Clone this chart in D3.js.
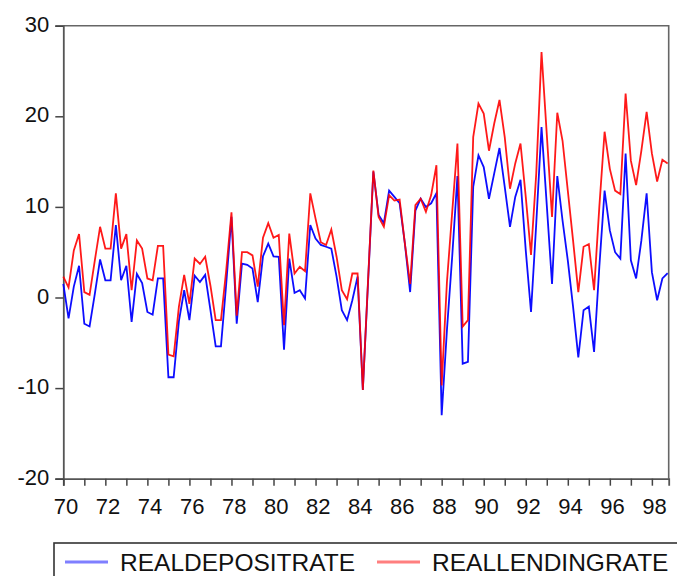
<!DOCTYPE html>
<html>
<head>
<meta charset="utf-8">
<script src="https://cdn.jsdelivr.net/npm/d3@7"></script>
<style>
  html, body { margin: 0; padding: 0; background: #fff; }
  svg { display: block; }
  text { font-family: "Liberation Sans", Arial, sans-serif; fill: #111; }
</style>
</head>
<body>
<svg id="chart" width="677" height="576"></svg>
<script>
// Quarterly observations, 1970Q1 - 1998Q4
const startYear = 1970;
const seriesNames = ["REALDEPOSITRATE", "REALLENDINGRATE"];
const seriesColors = ["#0000ff", "#ff0000"];
const legendColors = ["#7f7fff", "#ff7f7f"];

const realDepositRate = [
  1.5, -2.3, 1.2, 3.5, -2.9, -3.2, 0.4, 4.2, 1.9, 1.9,
  8.0, 1.9, 3.5, -2.7, 2.6, 1.6, -1.6, -1.9, 2.1, 2.1,
  -8.8, -8.8, -2.6, 0.8, -2.5, 2.4, 1.7, 2.5, -1.4, -5.4,
  -5.4, 1.5, 8.9, -2.9, 3.75, 3.6, 3.2, -0.5, 4.55, 5.95,
  4.55, 4.5, -5.75, 4.3, 0.5, 0.8, -0.1, 8.0, 6.5, 5.8,
  5.6, 5.4, 2.3, -1.4, -2.5, -0.3, 2.3, -10.2, 1.8, 13.9,
  9.1, 8.2, 11.8, 11.1, 10.4, 5.95, 0.6, 9.6, 10.9, 10.0,
  10.4, 11.5, -13.0, -3.6, 4.5, 13.4, -7.3, -7.1, 12.2, 15.7,
  14.4, 10.9, 13.7, 16.5, 12.2, 7.8, 11.1, 13.0, 5.2, -1.6,
  8.2, 18.8, 10.2, 1.5, 13.4, 8.5, 4.1, -1.0, -6.6, -1.4,
  -1.0, -6.0, 3.4, 11.8, 7.4, 5.0, 4.3, 15.9, 4.1, 2.1,
  6.3, 11.5, 2.8, -0.3, 2.1, 2.7
];

const realLendingRate = [
  2.3, 1.1, 5.2, 7.0, 0.6, 0.3, 4.1, 7.8, 5.4, 5.4,
  11.5, 5.4, 7.0, 0.8, 6.3, 5.4, 2.1, 1.9, 5.7, 5.7,
  -6.3, -6.5, -1.0, 2.5, -0.7, 4.3, 3.7, 4.5, 1.3, -2.5,
  -2.5, 3.0, 9.4, -2.0, 5.0, 5.0, 4.65, 1.2, 6.6, 8.2,
  6.6, 6.9, -3.05, 7.05, 2.65, 3.4, 2.9, 11.5, 8.7, 6.1,
  5.8, 7.5, 4.5, 0.8, -0.2, 2.65, 2.65, -10.2, 2.0, 14.0,
  8.9, 7.8, 11.3, 10.7, 10.8, 5.95, 1.5, 10.2, 10.9, 9.45,
  11.3, 14.6, -9.7, 1.7, 9.4, 17.0, -3.2, -2.5, 17.7, 21.4,
  20.3, 16.2, 19.2, 21.8, 17.7, 12.0, 14.8, 17.0, 11.1, 4.7,
  13.7, 27.1, 18.0, 8.9, 20.4, 17.3, 11.8, 6.3, 0.6, 5.6,
  5.9, 0.8, 10.0, 18.3, 14.2, 11.8, 11.4, 22.5, 15.1, 12.4,
  16.2, 20.5, 15.9, 12.8, 15.2, 14.8
];

const yTickValues = [-20, -10, 0, 10, 20, 30];
const xTickYears = d3.range(1970, 1999);       // minor ticks every year
const xLabelYears = d3.range(1970, 1999, 2);   // labelled every second year

// time index for each quarter
const periods = realDepositRate.map((_, i) => startYear + i / 4);

const svg = d3.select("#chart");
const plot = { left: 63.3, right: 668.7, top: 25.7, bottom: 478.7 };

const x = d3.scaleLinear()
  .domain([startYear, 1998.8])
  .range([plot.left, plot.right]);

const y = d3.scaleLinear()
  .domain([-20, 30])
  .range([plot.bottom, plot.top]);

// frame: top and right edges
svg.append("path")
  .attr("d", `M${plot.left},${plot.top}H${plot.right}V${plot.bottom}`)
  .attr("fill", "none")
  .attr("stroke", "#666")
  .attr("stroke-width", 1.6);

// y axis
const yAxis = svg.append("g")
  .attr("transform", `translate(${plot.left},0)`)
  .call(d3.axisLeft(y).tickValues(yTickValues).tickSize(8).tickPadding(6)
    .tickFormat(d => String(d)));
yAxis.select(".domain").attr("stroke", "#555").attr("stroke-width", 1.8);
yAxis.selectAll(".tick line").attr("stroke", "#444").attr("stroke-width", 1.5);
yAxis.selectAll(".tick text")
  .attr("font-size", 22)
  .attr("font-family", "Liberation Sans, Arial, sans-serif")
  .attr("dy", "0.25em")
  .attr("fill", "#111");

// x axis: yearly ticks, labels every two years
const xAxis = svg.append("g")
  .attr("transform", `translate(0,${plot.bottom})`)
  .call(d3.axisBottom(x).tickValues(xTickYears).tickSize(7).tickPadding(13)
    .tickFormat(d => xLabelYears.includes(d) ? String(d % 100).padStart(2, "0") : ""));
xAxis.select(".domain").attr("stroke", "#555").attr("stroke-width", 1.8);
xAxis.selectAll(".tick line").attr("stroke", "#444").attr("stroke-width", 1.5);
xAxis.selectAll(".tick text")
  .attr("font-size", 22)
  .attr("font-family", "Liberation Sans, Arial, sans-serif")
  .attr("dx", "0.1em")
  .attr("fill", "#111");

// series lines
const line = d3.line()
  .x((d, i) => x(periods[i]))
  .y(d => y(d));

[realDepositRate, realLendingRate].forEach((vals, k) => {
  svg.append("path")
    .datum(vals)
    .attr("d", line)
    .attr("fill", "none")
    .attr("stroke", seriesColors[k])
    .attr("stroke-width", 1.8)
    .attr("stroke-linejoin", "miter")
    .attr("stroke-opacity", k === 1 ? 0.9 : 0.95);
});

// legend
const legend = svg.append("g");
legend.append("rect")
  .attr("x", 54).attr("y", 543)
  .attr("width", 640).attr("height", 60)
  .attr("fill", "#fff")
  .attr("stroke", "#333")
  .attr("stroke-width", 1.6);

const legendX = [65, 377];
seriesNames.forEach((name, k) => {
  legend.append("line")
    .attr("x1", legendX[k]).attr("x2", legendX[k] + 43)
    .attr("y1", 562).attr("y2", 562)
    .attr("stroke", legendColors[k])
    .attr("stroke-width", 3);
  legend.append("text")
    .attr("x", legendX[k] + 55)
    .attr("y", 571)
    .attr("font-size", 24.5)
    .text(name);
});
</script>
</body>
</html>
